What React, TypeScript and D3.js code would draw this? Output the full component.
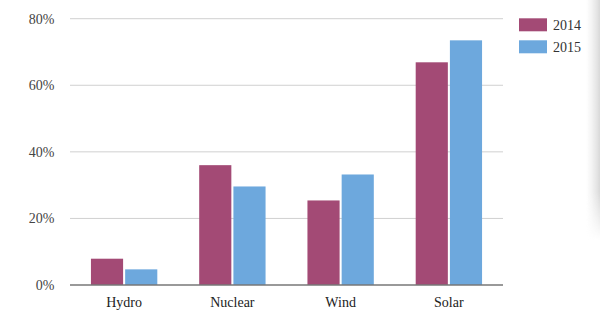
import React from "react";
import * as d3 from "d3";

const categories = ["Hydro", "Nuclear", "Wind", "Solar"];
const seriesNames = ["2014", "2015"];
const values2014 = [7.9, 36.0, 25.4, 66.9];
const values2015 = [4.7, 29.6, 33.2, 73.5];
const yTicks = [0, 20, 40, 60, 80];
const colors = ["#a34a75", "#6da8dd"];

export default function App() {
  const W = 600, H = 328;
  const left = 70, right = 503, top = 18.7, bottom = 285;
  const x0 = d3.scaleBand<string>().domain(categories).range([left, right]).paddingInner(0.387).paddingOuter(0.1935);
  const x1 = d3.scaleBand<string>().domain(seriesNames).range([0, x0.bandwidth()]).paddingInner(0.06);
  const y = d3.scaleLinear().domain([0, 80]).range([bottom, top]);
  const series = [values2014, values2015];
  const font = "'Liberation Serif', 'Times New Roman', serif";

  return (
    <svg width={W} height={H} style={{ position: "absolute", left: 0, top: 0, background: "#fff" }} fontFamily={font}>
      <defs>
        <linearGradient id="edge" x1="0" x2="1" y1="0" y2="0">
          <stop offset="0" stopColor="#e8e8e8" stopOpacity="0" />
          <stop offset="1" stopColor="#d8d8d8" stopOpacity="1" />
        </linearGradient>
        <linearGradient id="fade" x1="0" x2="0" y1="0" y2="1">
          <stop offset="0" stopColor="#fff" stopOpacity="1" />
          <stop offset="0.8" stopColor="#fff" stopOpacity="1" />
          <stop offset="1" stopColor="#fff" stopOpacity="0" />
        </linearGradient>
        <mask id="edgeMask">
          <rect x={586} y={0} width={14} height={240} fill="url(#fade)" />
        </mask>
      </defs>
      <rect x={586} y={0} width={14} height={240} fill="url(#edge)" mask="url(#edgeMask)" />
      {yTicks.map((t) => (
        <g key={t}>
          {t !== 0 && (
            <line x1={left} x2={right} y1={y(t)} y2={y(t)} stroke="#d0d0d0" strokeWidth={1} />
          )}
          <text x={54.5} y={y(t)} dy="0.35em" textAnchor="end" fontSize={14} fill="#444">
            {t}%
          </text>
        </g>
      ))}
      {categories.map((c, i) => (
        <g key={c} transform={`translate(${x0(c)},0)`}>
          {seriesNames.map((s, j) => (
            <rect
              key={s}
              x={x1(s)}
              y={y(series[j][i])}
              width={x1.bandwidth()}
              height={bottom - y(series[j][i])}
              fill={colors[j]}
            />
          ))}
          <text x={x0.bandwidth() / 2} y={306.5} textAnchor="middle" fontSize={14} fill="#222">
            {c}
          </text>
        </g>
      ))}
      <line x1={left} x2={right} y1={bottom} y2={bottom} stroke="#777" strokeWidth={1.5} />
      {seriesNames.map((s, j) => (
        <g key={s} transform={`translate(519,${18.3 + j * 22})`}>
          <rect x={0} y={0} width={28} height={13} fill={colors[j]} />
          <text x={34} y={11.5} fontSize={14} fill="#333">
            {s}
          </text>
        </g>
      ))}
    </svg>
  );
}
